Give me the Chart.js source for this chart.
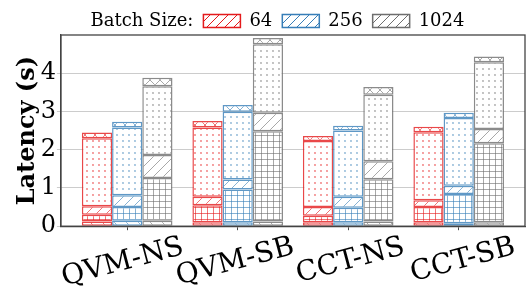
<!DOCTYPE html>
<html>
<head>
<meta charset="utf-8">
<script src="https://cdn.jsdelivr.net/npm/chart.js@4.4.0/dist/chart.umd.min.js"></script>
<style>
  html, body { margin: 0; padding: 0; background: #fff; }
  #wrap { width: 531px; height: 295px; }
</style>
</head>
<body>
<div id="wrap"><canvas id="latChart" width="531" height="295"></canvas></div>
<script>
const categories = ["QVM-NS", "QVM-SB", "CCT-NS", "CCT-SB"];
const batchSizes = ["64", "256", "1024"];
const yTicks = [0, 1, 2, 3, 4];

// stage heights (s), bottom stage first, one value per category
const lat64 = [
  [0.12, 0.10, 0.10, 0.10],
  [0.18, 0.45, 0.17, 0.40],
  [0.22, 0.22, 0.23, 0.18],
  [1.78, 1.81, 1.73, 1.78],
  [0.15, 0.17, 0.13, 0.14]
];
const lat256 = [
  [0.14, 0.10, 0.10, 0.08],
  [0.36, 0.86, 0.38, 0.76],
  [0.31, 0.26, 0.29, 0.22],
  [1.77, 1.77, 1.73, 1.77],
  [0.15, 0.18, 0.13, 0.14]
];
const lat1024 = [
  [0.14, 0.12, 0.12, 0.10],
  [1.12, 2.36, 1.11, 2.07],
  [0.60, 0.49, 0.47, 0.37],
  [1.80, 1.79, 1.74, 1.75],
  [0.22, 0.16, 0.20, 0.15]
];

const batchData = [lat64, lat256, lat1024];
const batchColor = ["228,26,28", "55,126,184", "110,110,110"];
const stageHatch = ["\\", "+", "/", ".", "x"];
const FONT = "DejaVu Serif";

/* hatch patterns */
function hatch(kind, color, size) {
  const s = size || (kind === "+" || kind === "." ? 6 : kind === "\\" ? 12 : 10);
  const c = document.createElement("canvas");
  c.width = s; c.height = s;
  const g = c.getContext("2d");
  g.fillStyle = "#fff";
  g.fillRect(0, 0, s, s);
  g.strokeStyle = color;
  g.fillStyle = color;
  g.lineWidth = 1;
  g.beginPath();
  if (kind === "/" || kind === "x") {
    g.moveTo(-1, s + 1); g.lineTo(s + 1, -1);
    g.moveTo(-1, 1); g.lineTo(1, -1);
    g.moveTo(s - 1, s + 1); g.lineTo(s + 1, s - 1);
  }
  if (kind === "\\" || kind === "x") {
    g.moveTo(-1, -1); g.lineTo(s + 1, s + 1);
    g.moveTo(s - 1, -1); g.lineTo(s + 1, 1);
    g.moveTo(-1, s - 1); g.lineTo(1, s + 1);
  }
  if (kind === "+") {
    g.moveTo(s / 2 + 0.5, 0); g.lineTo(s / 2 + 0.5, s);
    g.moveTo(0, s / 2 + 0.5); g.lineTo(s, s / 2 + 0.5);
  }
  g.stroke();
  if (kind === ".") {
    g.beginPath();
    g.arc(s / 2, s / 2, 0.9, 0, Math.PI * 2);
    g.fill();
  }
  return g.createPattern(c, "repeat");
}

const datasets = [];
batchSizes.forEach((b, bi) => {
  batchData[bi].forEach((stage, si) => {
    datasets.push({
      label: b + " stage " + (si + 1),
      stack: b,
      data: stage.map((v, i) => ({ x: i, y: v })),
      backgroundColor: hatch(stageHatch[si], `rgba(${batchColor[bi]},0.6)`),
      borderColor: `rgba(${batchColor[bi]},0.8)`,
      borderWidth: 1.5,
      borderSkipped: false,
      categoryPercentage: 0.82,
      barPercentage: 1
    });
  });
});

/* frame around plot + nudge legend left */
const framePlugin = {
  id: "frame",
  afterLayout(chart) {
    chart.legend.right -= 16;
  },
  afterDatasetsDraw(chart) {
    const { ctx, chartArea: a } = chart;
    ctx.save();
    ctx.strokeStyle = "#444";
    ctx.lineWidth = 1.3;
    ctx.strokeRect(a.left, a.top, a.right - a.left, a.bottom - a.top);
    ctx.restore();
  }
};

new Chart(document.getElementById("latChart"), {
  type: "bar",
  data: { datasets },
  plugins: [framePlugin],
  options: {
    responsive: false,
    animation: false,
    layout: { padding: { left: 0, right: 6, top: 2, bottom: 0 } },
    plugins: {
      tooltip: { enabled: false },
      legend: {
        position: "top",
        maxHeight: 33,
        onClick: null,
        labels: {
          boxWidth: 37,
          boxHeight: 13,
          padding: 10,
          color: "#000",
          font: { family: FONT, size: 18 },
          generateLabels: () => [
            { text: "Batch Size:", fillStyle: "rgba(0,0,0,0)", strokeStyle: "rgba(0,0,0,0)", lineWidth: 0 },
            ...batchSizes.map((b, i) => ({
              text: b,
              fillStyle: hatch("/", `rgb(${batchColor[i]})`, 9),
              strokeStyle: `rgb(${batchColor[i]})`,
              lineWidth: 1.5
            }))
          ]
        }
      }
    },
    scales: {
      x: {
        type: "linear",
        offset: false,
        min: -0.6,
        max: 3.6,
        stacked: true,
        afterBuildTicks: s => { s.ticks = categories.map((_, i) => ({ value: i })); },
        ticks: {
          callback: v => categories[v],
          minRotation: 15,
          maxRotation: 15,
          autoSkip: false,
          labelOffset: 56,
          padding: 0,
          color: "#000",
          font: { family: FONT, size: 28 }
        },
        grid: { drawOnChartArea: false, offset: false, tickLength: 4, color: "#444" },
        border: { color: "#444", width: 1.3 }
      },
      y: {
        stacked: true,
        min: 0,
        max: 5,
        afterBuildTicks: s => { s.ticks = yTicks.map(v => ({ value: v })); },
        ticks: { color: "#000", padding: 1, font: { family: FONT, size: 24 } },
        grid: { color: "#cccccc", tickLength: 4 },
        border: { color: "#444", width: 1.3 },
        title: {
          display: true,
          text: "Latency (s)",
          color: "#000",
          padding: 0,
          font: { family: FONT, size: 24, weight: "bold", lineHeight: 1 }
        }
      }
    }
  }
});
</script>
</body>
</html>
